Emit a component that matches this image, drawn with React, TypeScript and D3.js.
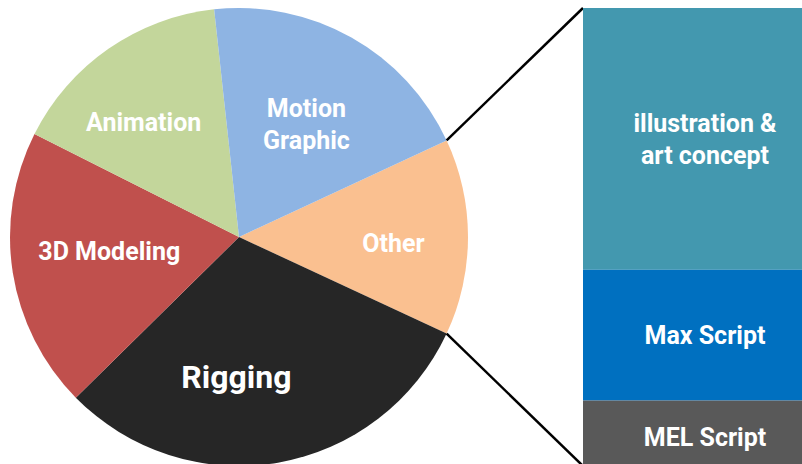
import React from 'react';
import * as d3 from 'd3';

// pie slices, in drawing order (clockwise, starting at the split-off slice)
const pieCategories = ['Other', 'Rigging', '3D Modeling', 'Animation', 'Motion Graphic'];
const pieValues = [0, 31, 20, 16, 20]; // "Other" is filled from the bar values below
const pieColors = ['#FAC090', '#262626', '#C0504D', '#C3D69B', '#8EB4E3'];

// bar that breaks down "Other"
const barCategories = ['illustration & art concept', 'Max Script', 'MEL Script'];
const barValues = [8, 4, 2];
const barColors = ['#4398AF', '#0070C0', '#595959'];

const pieLabelLines: Record<string, string[]> = {
    'Motion Graphic': ['Motion', 'Graphic'],
};
const barLabelLines: Record<string, string[]> = {
    'illustration & art concept': ['illustration &', 'art concept'],
};

// small nudges so labels sit where Excel put them
const labelNudge: Record<string, [number, number]> = {
    Other: [17, 6],
    Rigging: [-26, 5],
    '3D Modeling': [6, -7],
    Animation: [-17, -2],
    'Motion Graphic': [0, 7],
};
const barLabelNudge: Record<string, number> = {
    'MEL Script': 4,
};

const W = 802;
const H = 464;
const cx = 239;
const cy = 237;
const R = 229;
const barX = 583;
const barW = 244;
const fs = 25;

const App: React.FC = () => {
    const otherTotal = d3.sum(barValues);
    const values = pieValues.map((v, i) => (i === 0 ? otherTotal : v));
    const total = d3.sum(values);
    const otherAngle = (2 * Math.PI * otherTotal) / total;

    const pie = d3.pie<number>()
        .sort(null)
        .value(d => d)
        .startAngle(Math.PI / 2 - otherAngle / 2)
        .endAngle(Math.PI / 2 - otherAngle / 2 + 2 * Math.PI);
    const arcs = pie(values);

    const arc = d3.arc<d3.PieArcDatum<number>>().innerRadius(0).outerRadius(R);
    const labelArc = d3.arc<d3.PieArcDatum<number>>().innerRadius(R * 0.6).outerRadius(R * 0.6);

    const y = d3.scaleLinear().domain([0, otherTotal]).range([cy - R, cy + R]);
    const stacked = barValues.map((v, i) => ({
        name: barCategories[i],
        y0: d3.sum(barValues.slice(0, i)),
        y1: d3.sum(barValues.slice(0, i + 1)),
        color: barColors[i],
    }));

    const a0 = arcs[0].startAngle;
    const a1 = arcs[0].endAngle;
    const p0: [number, number] = [cx + R * Math.sin(a0), cy - R * Math.cos(a0)];
    const p1: [number, number] = [cx + R * Math.sin(a1), cy - R * Math.cos(a1)];

    const font = 'Roboto, "DejaVu Sans", sans-serif';

    return (
        <svg
            width={W}
            height={H}
            style={{ position: 'absolute', left: 0, top: 0, display: 'block', background: '#fff' }}
        >
            <g transform={`translate(${cx},${cy})`}>
                {arcs.map((d, i) => (
                    <path key={pieCategories[i]} d={arc(d) ?? ''} fill={pieColors[i]} />
                ))}
                {arcs.map((d, i) => {
                    const name = pieCategories[i];
                    const [lx, ly] = labelArc.centroid(d);
                    const [nx, ny] = labelNudge[name] ?? [0, 0];
                    const lines = pieLabelLines[name] ?? [name];
                    const size = name === 'Rigging' ? 32 : fs;
                    const lh = size * 1.28;
                    return (
                        <text
                            key={name}
                            x={lx + nx}
                            y={ly + ny - ((lines.length - 1) * lh) / 2}
                            textAnchor="middle"
                            dominantBaseline="central"
                            fill="#fff"
                            fontFamily={font}
                            fontWeight={700}
                            fontSize={size}
                        >
                            {lines.map((t, k) => (
                                <tspan key={t} x={lx + nx} dy={k === 0 ? 0 : lh}>{t}</tspan>
                            ))}
                        </text>
                    );
                })}
            </g>

            <line x1={p0[0]} y1={p0[1]} x2={barX} y2={y(0)} stroke="#000" strokeWidth={2.5} />
            <line x1={p1[0]} y1={p1[1]} x2={barX} y2={y(otherTotal)} stroke="#000" strokeWidth={2.5} />

            {stacked.map(s => (
                <rect
                    key={s.name}
                    x={barX}
                    y={y(s.y0)}
                    width={barW}
                    height={y(s.y1) - y(s.y0)}
                    fill={s.color}
                />
            ))}
            {stacked.map(s => {
                const lines = barLabelLines[s.name] ?? [s.name];
                const lh = fs * 1.28;
                const my = (y(s.y0) + y(s.y1)) / 2 + (barLabelNudge[s.name] ?? 0);
                return (
                    <text
                        key={s.name}
                        x={barX + barW / 2}
                        y={my - ((lines.length - 1) * lh) / 2}
                        textAnchor="middle"
                        dominantBaseline="central"
                        fill="#fff"
                        fontFamily={font}
                        fontWeight={700}
                        fontSize={fs}
                    >
                        {lines.map((t, k) => (
                            <tspan key={t} x={barX + barW / 2} dy={k === 0 ? 0 : lh}>{t}</tspan>
                        ))}
                    </text>
                );
            })}
        </svg>
    );
};

export default App;
